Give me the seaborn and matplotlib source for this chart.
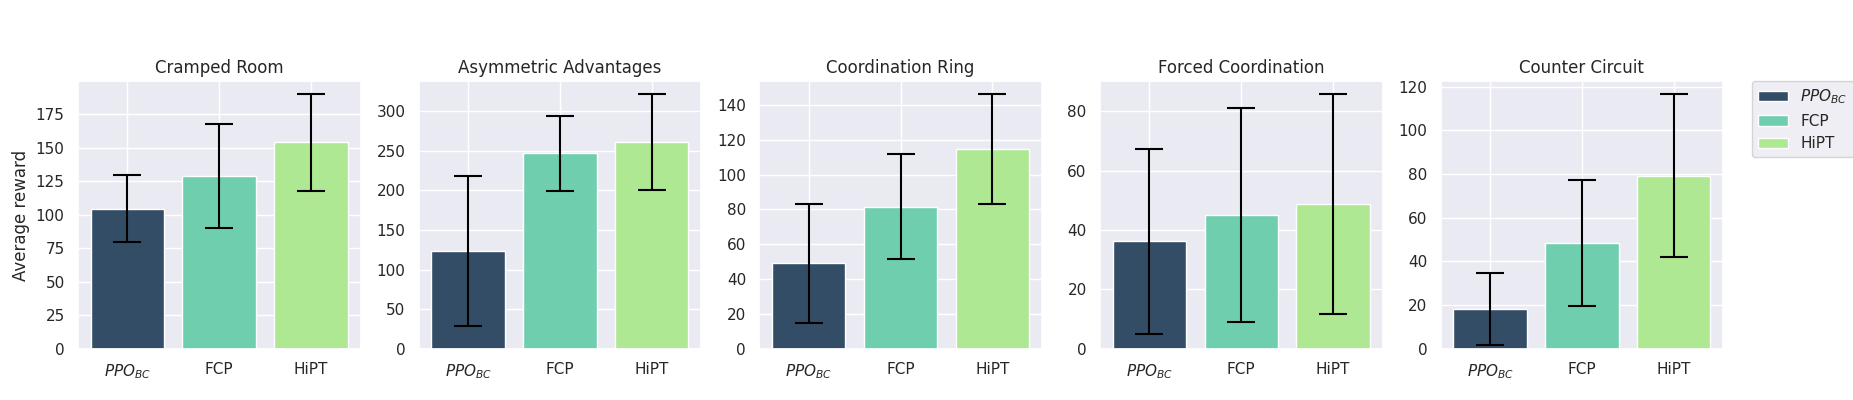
import numpy as np
import pandas as pd
import matplotlib
matplotlib.use("Agg")
import matplotlib.pyplot as plt
import seaborn as sns
from matplotlib.patches import Patch

layouts = ["Cramped Room", "Asymmetric Advantages", "Coordination Ring",
           "Forced Coordination", "Counter Circuit"]
methods = ["$PPO_{BC}$", "FCP", "HiPT"]

# mean reward per layout, order = methods
means = {
    "Cramped Room": [104.5, 129.0, 154.0],
    "Asymmetric Advantages": [123.0, 246.5, 261.0],
    "Coordination Ring": [49.0, 81.5, 114.8],
    "Forced Coordination": [36.2, 45.1, 48.8],
    "Counter Circuit": [18.3, 48.4, 79.2],
}
# half-width of the error bars
errors = {
    "Cramped Room": [25.2, 38.6, 36.0],
    "Asymmetric Advantages": [94.4, 47.0, 60.4],
    "Coordination Ring": [34.3, 30.2, 31.5],
    "Forced Coordination": [31.3, 36.1, 37.1],
    "Counter Circuit": [16.6, 28.9, 37.4],
}

colors = ["#344D66", "#6FCEAE", "#AEE892"]

sns.set_theme(style="darkgrid")

fig, axes = plt.subplots(1, 5, figsize=(18.53, 4), dpi=100)
fig.subplots_adjust(left=0.042, right=0.930, top=0.797, bottom=0.128, wspace=0.205)

for ax, name in zip(axes, layouts):
	df = pd.DataFrame({"method": methods, "reward": means[name]})
	sns.barplot(data=df, x="method", y="reward", hue="method", palette=colors,
	            saturation=1, errorbar=None, width=0.8, legend=False, ax=ax)
	ax.errorbar(np.arange(len(methods)), means[name], yerr=errors[name],
	            fmt="none", ecolor="black", elinewidth=1.5, capsize=10, capthick=1.5)
	ax.set_xlim(-0.54, 2.54)
	# same headroom as matplotlib's default 5% margin
	top = max(m + e for m, e in zip(means[name], errors[name]))
	ax.set_ylim(0, top * 1.05)
	ax.set_title(name)
	ax.set_xlabel("")
	ax.set_ylabel("")
	ax.grid(True, axis="x")

axes[0].set_ylabel("Average reward")

handles = [Patch(facecolor=c, label=m) for c, m in zip(colors, methods)]
axes[-1].legend(handles=handles, loc="upper left", bbox_to_anchor=(1.1, 1.0),
                borderaxespad=0)

plt.savefig("out.png", dpi=100)
plt.close()
